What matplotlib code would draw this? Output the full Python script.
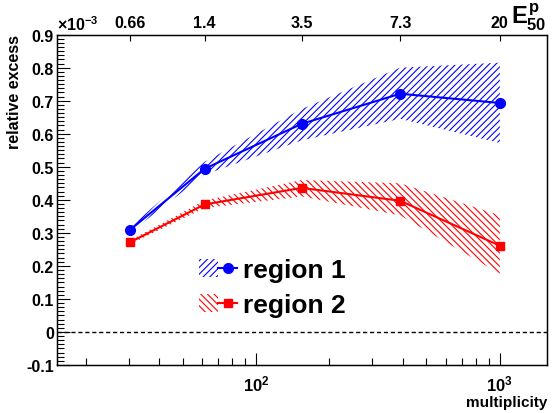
import math
import matplotlib
matplotlib.use("Agg")
import matplotlib.pyplot as plt
from matplotlib.ticker import FixedLocator, NullFormatter, LogLocator, MultipleLocator, FuncFormatter
from matplotlib.patches import Patch
from matplotlib.lines import Line2D
from matplotlib.legend_handler import HandlerTuple

plt.rcParams['font.family'] = ['Liberation Sans', 'DejaVu Sans']
plt.rcParams['font.weight'] = 'bold'
plt.rcParams['mathtext.fontset'] = 'custom'
plt.rcParams['mathtext.rm'] = 'Liberation Sans:bold'
plt.rcParams['mathtext.bf'] = 'Liberation Sans:bold'
plt.rcParams['mathtext.it'] = 'Liberation Sans:bold'
plt.rcParams['axes.unicode_minus'] = False
plt.rcParams['hatch.linewidth'] = 0.8

# data (relative excess in units of 1e-3)
multiplicity = [30.5, 61.5, 154, 390, 1000]
e50_labels = ['0.66', '1.4', '3.5', '7.3', '20']

region1 = [0.310, 0.494, 0.630, 0.721, 0.693]
region1_hi = [0.318, 0.515, 0.675, 0.800, 0.815]
region1_lo = [0.302, 0.476, 0.580, 0.645, 0.572]

region2 = [0.272, 0.386, 0.436, 0.397, 0.261]
region2_hi = [0.278, 0.398, 0.460, 0.450, 0.353]
region2_lo = [0.266, 0.375, 0.410, 0.353, 0.176]

fig = plt.figure(figsize=(5.53, 4.14), dpi=100)
ax = fig.add_axes([0.1025, 0.116, 0.9890 - 0.1025, 0.914 - 0.116])

blue = '#0000ff'
red = '#ff0000'
hatch1 = '/////'
hatch2 = '\\\\\\\\\\'

# error bands (hatched)
ax.fill_between(multiplicity, region1_lo, region1_hi, facecolor='none',
                edgecolor=blue, hatch=hatch1, linewidth=0)
ax.fill_between(multiplicity, region2_lo, region2_hi, facecolor='none',
                edgecolor=red, hatch=hatch2, linewidth=0)

ax.plot(multiplicity, region1, color=blue, lw=1.5, marker='o', ms=7)
ax.plot(multiplicity, region2, color=red, lw=1.5, marker='s', ms=6.3)

ax.axhline(0, color='black', lw=1, ls=(0, (3, 2)))

ax.set_xscale('log')
ax.set_xlim(15.2, 1560)
ax.set_ylim(-0.1, 0.9)

# y axis
ax.yaxis.set_major_locator(MultipleLocator(0.1))
ax.yaxis.set_minor_locator(MultipleLocator(0.0125))
ax.yaxis.set_major_formatter(FuncFormatter(lambda v, p: f'{v:.1f}' if abs(v) > 1e-9 else '0'))
ax.tick_params(axis='y', which='major', direction='in', length=9.5, width=0.8,
               labelsize=11.5, pad=2, right=False)
ax.tick_params(axis='y', which='minor', direction='in', length=5, width=0.8, right=False)

# x axis (bottom)
ax.xaxis.set_major_locator(FixedLocator([100, 1000]))
ax.xaxis.set_major_formatter(FuncFormatter(lambda v, p: r'$10^{%d}$' % round(math.log10(v))))
ax.xaxis.set_minor_locator(LogLocator(base=10, subs=range(2, 10)))
ax.xaxis.set_minor_formatter(NullFormatter())
ax.tick_params(axis='x', which='major', direction='in', length=9, width=0.8,
               labelsize=12, pad=6, top=False)
ax.tick_params(axis='x', which='minor', direction='in', length=5, width=0.8, top=False)

for s in ax.spines.values():
    s.set_linewidth(1)

# top axis with E50 values
top = ax.twiny()
top.set_xscale('log')
top.set_xlim(ax.get_xlim())
top.xaxis.set_major_locator(FixedLocator(multiplicity))
top.xaxis.set_minor_locator(FixedLocator([]))
top.set_xticklabels(e50_labels)
top.tick_params(axis='x', which='major', direction='in', length=4.5, width=0.8,
                labelsize=11.5, pad=3)

fig.text(0.988, 1 - 17 / 414, r'$E^{p}_{50}$', fontsize=17, ha='right', va='center')
ax.text(0.0, 1.005, r'$\times$10$^{-3}$', transform=ax.transAxes, fontsize=11.5,
        ha='left', va='bottom')

fig.text(15 / 553, 1 - 35 / 414, 'relative excess', rotation=90, fontsize=11.5,
         ha='center', va='top')
fig.text(547 / 553, 1 - 403 / 414, 'multiplicity', fontsize=11, ha='right', va='center')

# legend
h1 = (Patch(facecolor='none', edgecolor=blue, hatch=hatch1, linewidth=0),
      Line2D([], [], color=blue, lw=1.5, marker='o', ms=7))
h2 = (Patch(facecolor='none', edgecolor=red, hatch=hatch2, linewidth=0),
      Line2D([], [], color=red, lw=1.5, marker='s', ms=6.3))
fig.legend([h1, h2], ['region 1', 'region 2'],
           handler_map={tuple: HandlerTuple(ndivide=None, pad=0)},
           loc='upper left', bbox_to_anchor=(199 / 553, 1 - 259 / 414),
           frameon=False, fontsize=19, handlelength=1.45, handleheight=0.7,
           handletextpad=0.2, labelspacing=0.42, borderpad=0, borderaxespad=0)

fig.savefig('out.png', dpi=100)
